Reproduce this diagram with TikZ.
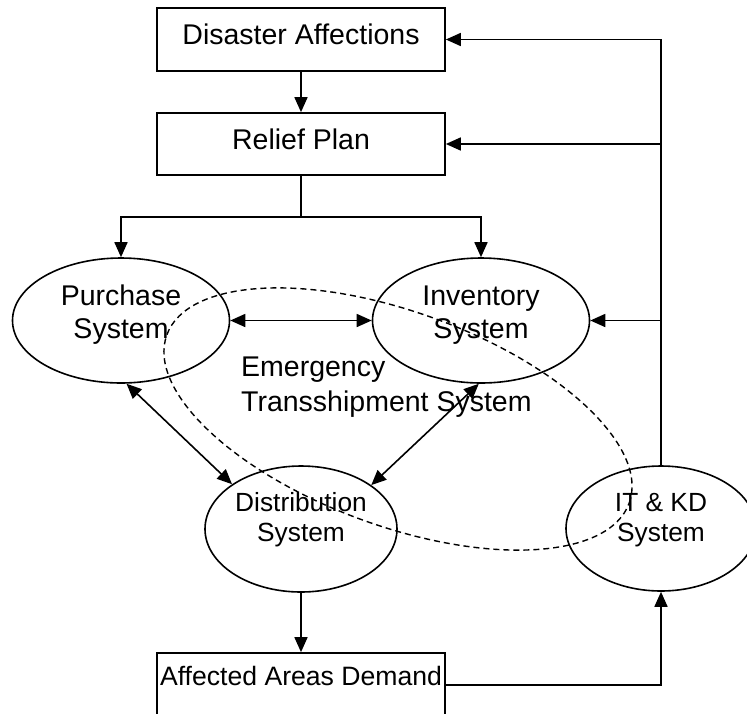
\documentclass[tikz,border=0pt]{standalone}
\usepackage{fontspec}
\setmainfont{Liberation Sans}
\usetikzlibrary{shapes.geometric,arrows.meta}
\begin{document}
\begin{tikzpicture}[x=1pt,y=-1pt,
  every node/.style={font=\fontsize{28.5}{33}\selectfont},
  small/.style={font=\fontsize{26.3}{30}\selectfont},
  box/.style={draw, line width=1.7pt, minimum width=288pt, minimum height=63pt, inner sep=0pt, text depth=9.8pt},
  sys/.style={draw, ellipse, line width=1.6pt, inner sep=0pt},
  lbl/.style={align=center, inner sep=0pt},
  arr/.style={line width=1.7pt, -{Triangle[length=15pt,width=13pt]}},
  darr/.style={line width=1.6pt, {Triangle[length=15pt,width=13pt]}-{Triangle[length=15pt,width=13pt]}},
  etsys/.style={draw, ellipse, line width=1.4pt, dash pattern=on 6pt off 4pt, inner sep=0pt}
]
\useasboundingbox (0,0) rectangle (747,713);
\clip (0,0) rectangle (747,713);
% boxes
\node[box] (da) at (301,39.5) {Disaster Affections};
\node[box, minimum height=62pt] (rp) at (301,144) {Relief Plan};
\node[draw, line width=1.7pt, minimum width=288pt, minimum height=64pt, inner sep=0pt] (aad) at (301,685) {};
\node[lbl, font=\fontsize{26.6}{30}\selectfont] (aadt) at (301,676) {Affected Areas Demand};
% ellipses
\node[sys, minimum width=217pt, minimum height=125pt] (ps) at (121,320.5) {};
\node[lbl] (pst) at (121,315) {Purchase\\System};
\node[sys, minimum width=217pt, minimum height=125pt] (inv) at (481,320.5) {};
\node[lbl] (invt) at (481,315) {Inventory\\System};
\node[sys, minimum width=192pt, minimum height=126pt] (ds) at (301,529) {};
\node[lbl, small] (dst) at (301,520) {Distribution\\System};
\node[sys, minimum width=190pt, minimum height=125pt] (it) at (661,528.5) {};
\node[lbl, small] (itt) at (661,520) {IT \& KD\\System};
% emergency transshipment
\node[etsys, minimum width=492pt, minimum height=214pt, rotate=-20] (ets) at (398,419) {};
\node[align=left, anchor=west, inner sep=0pt, font=\fontsize{28.5}{34.5}\selectfont] (etst) at (241,387) {Emergency\\Transshipment System};
% connectors
\draw[arr] (da.south) -- (rp.north);
\draw[arr] (rp.south) -- ++(0,41) -| (ps.north);
\draw[arr] (rp.south) -- ++(0,41) -| (inv.north);
\draw[darr] (ps) -- (inv);
\draw[darr] (ps.-85) -- (ds.147);
\draw[darr] (inv.268) -- (ds.32);
\draw[arr] (ds.south) -- (aad.north);
\draw[arr] (aad.east) -| (it.south);
\draw[arr] (it.north) |- (da.east);
\draw[arr] (it.north) |- (rp.east);
\draw[arr] (it.north) |- (inv.east);
\end{tikzpicture}
\end{document}
